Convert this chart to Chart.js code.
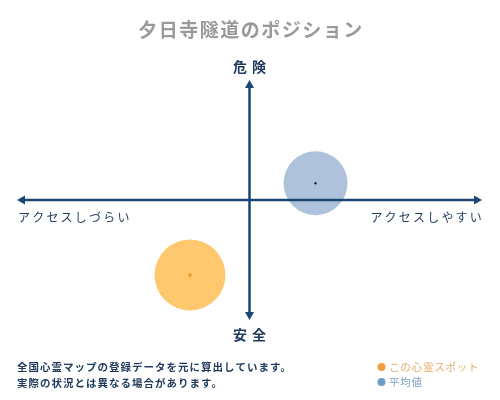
<!DOCTYPE html>
<html>
<head>
<meta charset="utf-8">
<script src="https://cdn.jsdelivr.net/npm/chart.js@4/dist/chart.umd.min.js"></script>
<style>
  html, body { margin: 0; padding: 0; background: #fff; }
  #chart { display: block; }
</style>
</head>
<body>
<canvas id="chart" width="500" height="400"></canvas>
<script>
// 系列（この心霊スポット / 平均値）
const categories = ['この心霊スポット', '平均値'];
const accessValues = [-25.6, 28.4];   // 横軸：アクセスしづらい(-) ⇔ アクセスしやすい(+)
const dangerValues = [-62.5, 14];     // 縦軸：安全(-) ⇔ 危険(+)
const bubbleSizes = [35.5, 32];

const chartTitle = '夕日寺隧道のポジション';
const xAxisLabels = ['アクセスしづらい', 'アクセスしやすい'];
const yAxisLabels = ['安全', '危険'];
const footNotes = [
    '全国心霊マップの登録データを元に算出しています。',
    '実際の状況とは異なる場合があります。'
];

const NAVY = '#1b4673';
const TEXT_NAVY = '#1d3a5c';
const bubbleColors = ['rgba(253, 200, 110, 1)', 'rgba(174, 195, 219, 1)'];
const dotColors = ['#f0a030', '#1a2a3c'];
const legendDotColors = ['#ef9f3c', '#6f9cc6'];
const legendTextColors = ['#e3ad6d', '#7d9fc1'];
const FONT = '"Noto Sans CJK JP", "Noto Sans", sans-serif';

const positionPlugin = {
    id: 'positionMap',
    afterDatasetsDraw(chart) {
        const { ctx, scales: { x, y } } = chart;
        const x0 = x.getPixelForValue(0);
        const y0 = y.getPixelForValue(0);
        const left = x.getPixelForValue(x.min);
        const right = x.getPixelForValue(x.max);
        const top = y.getPixelForValue(y.max);
        const bottom = y.getPixelForValue(y.min);
        const head = 8, half = 4.5;

        ctx.save();
        ctx.strokeStyle = NAVY;
        ctx.fillStyle = NAVY;
        ctx.lineWidth = 2.5;

        ctx.beginPath();
        ctx.moveTo(left + head - 1, y0);
        ctx.lineTo(right - head + 1, y0);
        ctx.moveTo(x0, top + head - 1);
        ctx.lineTo(x0, bottom - head + 1);
        ctx.stroke();

        const tri = (pts) => {
            ctx.beginPath();
            ctx.moveTo(pts[0], pts[1]);
            ctx.lineTo(pts[2], pts[3]);
            ctx.lineTo(pts[4], pts[5]);
            ctx.closePath();
            ctx.fill();
        };
        tri([left, y0, left + head, y0 - half, left + head, y0 + half]);
        tri([right, y0, right - head, y0 - half, right - head, y0 + half]);
        tri([x0, top, x0 - half, top + head, x0 + half, top + head]);
        tri([x0, bottom, x0 - half, bottom - head, x0 + half, bottom - head]);
        ctx.restore();
    },
    afterDraw(chart) {
        const { ctx, scales: { x, y } } = chart;
        const x0 = x.getPixelForValue(0);
        const y0 = y.getPixelForValue(0);
        const left = x.getPixelForValue(x.min);
        const right = x.getPixelForValue(x.max);
        const top = y.getPixelForValue(y.max);
        const bottom = y.getPixelForValue(y.min);

        ctx.save();
        ctx.textBaseline = 'middle';

        // タイトル
        ctx.fillStyle = '#9a9a9a';
        ctx.font = 'bold 19px ' + FONT;
        ctx.letterSpacing = '1.5px';
        ctx.textAlign = 'center';
        ctx.fillText(chartTitle, 251, 30);

        // 縦軸ラベル
        ctx.fillStyle = TEXT_NAVY;
        ctx.font = 'bold 14px ' + FONT;
        ctx.letterSpacing = '5px';
        ctx.fillText(yAxisLabels[1], x0 + 2.5, top - 13);
        ctx.fillText(yAxisLabels[0], x0 + 2.5, bottom + 15);

        // 横軸ラベル
        ctx.font = '12px ' + FONT;
        ctx.letterSpacing = '2.2px';
        ctx.textAlign = 'left';
        ctx.fillText(xAxisLabels[0], left + 1, y0 + 17);
        ctx.textAlign = 'right';
        ctx.fillText(xAxisLabels[1], right + 2, y0 + 17);

        // 注記
        ctx.textAlign = 'left';
        ctx.font = 'bold 10.5px ' + FONT;
        ctx.letterSpacing = '1px';
        footNotes.forEach((line, i) => ctx.fillText(line, 17, 367 + i * 16));

        // 凡例
        ctx.font = '10.5px ' + FONT;
        ctx.letterSpacing = '0.8px';
        categories.forEach((name, i) => {
            const ly = 367 + i * 15;
            ctx.fillStyle = legendDotColors[i];
            ctx.beginPath();
            ctx.arc(381.5, ly, 4, 0, Math.PI * 2);
            ctx.fill();
            ctx.fillStyle = legendTextColors[i];
            ctx.fillText(name, 389, ly);
        });
        ctx.restore();
    }
};

new Chart(document.getElementById('chart'), {
    type: 'bubble',
    data: {
        datasets: [
            ...categories.map((name, i) => ({
                label: name,
                data: [{ x: accessValues[i], y: dangerValues[i], r: bubbleSizes[i] }],
                backgroundColor: bubbleColors[i],
                borderWidth: 0,
                order: 2
            })),
            {
                type: 'scatter',
                label: 'center',
                data: categories.map((_, i) => ({ x: accessValues[i], y: dangerValues[i] })),
                pointBackgroundColor: dotColors,
                pointBorderWidth: 0,
                pointRadius: [2, 1.2],
                order: 1
            }
        ]
    },
    options: {
        responsive: false,
        animation: false,
        devicePixelRatio: 1,
        layout: { autoPadding: false, padding: { left: 17, right: 18, top: 80, bottom: 80 } },
        scales: {
            x: { type: 'linear', min: -100, max: 100, display: false },
            y: { type: 'linear', min: -100, max: 100, display: false }
        },
        plugins: {
            legend: { display: false },
            tooltip: { enabled: false }
        },
        events: []
    },
    plugins: [positionPlugin]
});
</script>
</body>
</html>
